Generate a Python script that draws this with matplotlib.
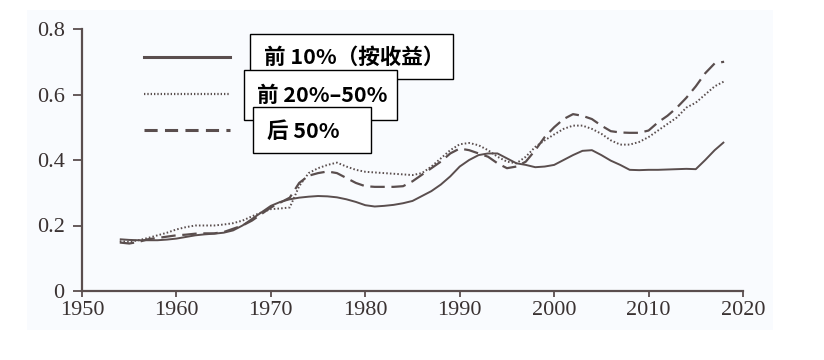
import matplotlib
matplotlib.use("Agg")
import matplotlib.pyplot as plt
from matplotlib.patches import Rectangle
from matplotlib.lines import Line2D

years = list(range(1954, 2019))

top10 = [0.158, 0.156, 0.155, 0.155, 0.155, 0.157, 0.160, 0.165, 0.170, 0.173,
         0.175, 0.178, 0.185, 0.200, 0.220, 0.240, 0.260, 0.272, 0.280, 0.285,
         0.288, 0.290, 0.289, 0.286, 0.280, 0.272, 0.262, 0.258, 0.260, 0.263,
         0.268, 0.275, 0.290, 0.305, 0.325, 0.350, 0.380, 0.400, 0.415, 0.420,
         0.420, 0.405, 0.390, 0.385, 0.378, 0.380, 0.385, 0.400, 0.415, 0.428,
         0.430, 0.415, 0.398, 0.385, 0.370, 0.369, 0.370, 0.370, 0.371, 0.372,
         0.373, 0.372, 0.400, 0.430, 0.455]

mid20_50 = [0.152, 0.150, 0.155, 0.162, 0.170, 0.178, 0.188, 0.195, 0.200, 0.200,
            0.200, 0.203, 0.207, 0.215, 0.228, 0.240, 0.250, 0.252, 0.255, 0.320,
            0.360, 0.375, 0.385, 0.392, 0.380, 0.370, 0.364, 0.362, 0.360, 0.358,
            0.356, 0.354, 0.360, 0.380, 0.405, 0.430, 0.448, 0.452, 0.445, 0.430,
            0.410, 0.395, 0.390, 0.410, 0.440, 0.460, 0.478, 0.495, 0.505, 0.505,
            0.495, 0.480, 0.460, 0.447, 0.447, 0.455, 0.470, 0.490, 0.510, 0.530,
            0.560, 0.575, 0.600, 0.625, 0.640]

bottom50 = [0.148, 0.145, 0.150, 0.158, 0.162, 0.166, 0.170, 0.172, 0.175, 0.176,
            0.176, 0.180, 0.190, 0.200, 0.215, 0.235, 0.255, 0.270, 0.285, 0.330,
            0.352, 0.360, 0.365, 0.360, 0.345, 0.330, 0.320, 0.318, 0.318, 0.318,
            0.320, 0.335, 0.355, 0.375, 0.395, 0.420, 0.435, 0.430, 0.420, 0.410,
            0.390, 0.375, 0.380, 0.395, 0.430, 0.470, 0.500, 0.525, 0.540, 0.535,
            0.525, 0.505, 0.488, 0.484, 0.483, 0.483, 0.490, 0.515, 0.535, 0.560,
            0.590, 0.625, 0.665, 0.695, 0.700]

labels = ["前 10%（按收益）", "前 20%–50%", "后 50%"]
xticks = [1950, 1960, 1970, 1980, 1990, 2000, 2010, 2020]
yticks = [0, 0.2, 0.4, 0.6, 0.8]
yticklabels = ["0", "0.2", "0.4", "0.6", "0.8"]

W, H = 824, 360
col = "#5a4e4e"
fig = plt.figure(figsize=(W / 100, H / 100), dpi=100, facecolor="white")

def fx(px):
    return px / W

def fy(py):
    return 1 - py / H

# light background panel
fig.patches.append(Rectangle((fx(27), fy(330)), fx(773) - fx(27), fy(10) - fy(330),
                             transform=fig.transFigure, facecolor="#f9fbfe",
                             edgecolor="none", zorder=-5))

ax = fig.add_axes([fx(82), fy(291), fx(743) - fx(82), fy(29) - fy(291)])
ax.set_zorder(1)
ax.patch.set_alpha(0)

lw = 1.4
ax.plot(years, top10, color=col, lw=lw, solid_capstyle="butt")
ax.plot(years, mid20_50, color=col, lw=lw, linestyle=(0, (0.8, 1.1)))
ax.plot(years, bottom50, color=col, lw=lw + 0.2, linestyle=(0, (6.5, 3)))

ax.set_xlim(1950, 2020)
ax.set_ylim(0, 0.8)
ax.set_xticks(xticks)
ax.set_yticks(yticks)
ax.set_yticklabels(yticklabels)
for s in ["top", "right"]:
    ax.spines[s].set_visible(False)
for s in ["left", "bottom"]:
    ax.spines[s].set_color(col)
    ax.spines[s].set_linewidth(1.6)
ax.tick_params(axis="y", direction="out", length=6.5, width=1.3, color=col,
               labelsize=16, labelcolor="#3a3232", pad=6)
ax.tick_params(axis="x", direction="out", length=4.5, width=1.3, color=col,
               labelsize=16, labelcolor="#3a3232", pad=3)
for t in ax.get_xticklabels() + ax.get_yticklabels():
    t.set_family("Liberation Serif")

# custom legend: line samples
styles = ["-", (0, (0.6, 0.9)), (0, (4.3, 2.4))]
ys = [57, 94, 130]
lws = [2.2, 1.6, 2.2]
for st, yy, w in zip(styles, ys, lws):
    fig.lines.append(Line2D([fx(144), fx(230)], [fy(yy), fy(yy)],
                            transform=fig.transFigure, color=col, lw=w,
                            linestyle=st, zorder=3))

# boxes with labels (later ones drawn on top)
boxes = [(250, 34, 453, 79), (244, 70, 397, 120), (253, 107, 371, 153)]
text_pos = [(264, 57), (257, 95), (267, 131)]
for i, ((x0, y0, x1, y1), (tx, ty), lab) in enumerate(zip(boxes, text_pos, labels)):
    fig.patches.append(Rectangle((fx(x0), fy(y1)), fx(x1) - fx(x0), fy(y0) - fy(y1),
                                 transform=fig.transFigure, facecolor="white",
                                 edgecolor="black", lw=1.0, zorder=5 + 2 * i))
    fig.text(fx(tx), fy(ty), lab, ha="left", va="center", fontsize=15.5,
             fontweight="bold", color="black",
             family=["Noto Sans CJK SC", "DejaVu Sans"], zorder=6 + 2 * i)

fig.savefig("out.png", dpi=100, facecolor=fig.get_facecolor())
